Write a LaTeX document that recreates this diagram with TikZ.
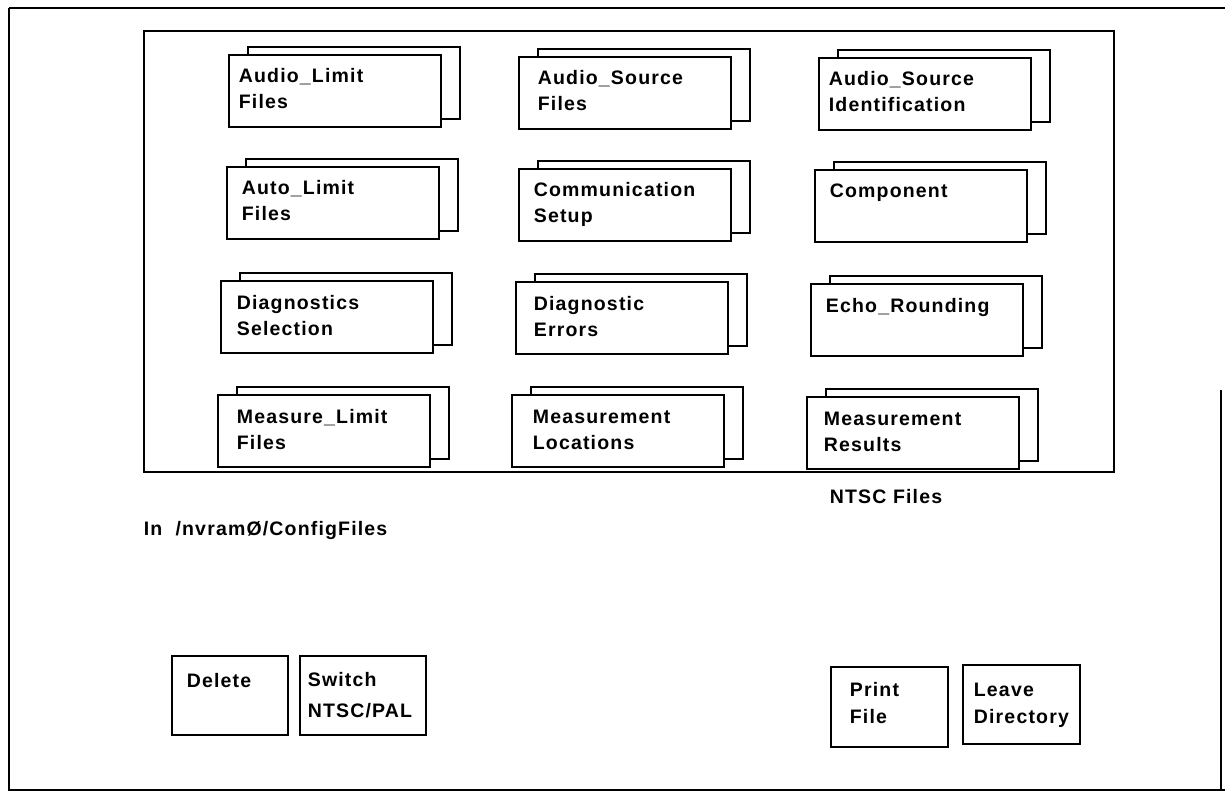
\documentclass[tikz,border=0pt]{standalone}
\usepackage{fontspec}
\setmainfont{Liberation Sans}[LetterSpace=6,UprightFont=*-Bold]
\begin{document}
\begin{tikzpicture}[x=1pt,y=-1pt,
  line width=1.8pt,
  frame/.style={draw=black},
  cardback/.style={draw=black,fill=white,rectangle,inner sep=0pt,anchor=north west,
    minimum width=212pt,minimum height=72pt},
  cardfront/.style={cardback},
  button/.style={draw=black,fill=white,rectangle,inner sep=0pt,anchor=north west},
  label/.style={anchor=base west,inner sep=0pt,font=\fontsize{19.5}{24}\selectfont}
]
\useasboundingbox (0,0) rectangle (1225,794);

% outer screen border
\draw (9,8) -- (1225,8);
\draw (9,8) -- (9,790) -- (1225,790);
\draw (1221,390) -- (1221,790);

% file panel
\node[frame,rectangle,inner sep=0pt,anchor=north west,minimum width=970pt,minimum height=441pt] (panel) at (143,30) {};

% a stacked file card: name, left, top, text left, first line, second line
\newcommand\filecard[6]{%
  \node[cardback] (#1-back) at (#2+19,#3-8) {};
  \node[cardfront] (#1) at (#2,#3) {};
  \node[label] (#1-l1) at (#4,#3+29) {#5};
  \node[label] (#1-l2) at (#4,#3+55) {#6};
}

\filecard{audiolimit}{228}{54}{238}{Audio\_Limit}{Files}
\filecard{audiosource}{518}{56}{537}{Audio\_Source}{Files}
\filecard{audioident}{818}{57}{828}{Audio\_Source}{Identification}

\filecard{autolimit}{226}{166}{241}{Auto\_Limit}{Files}
\filecard{commsetup}{518}{168}{533}{Communication}{Setup}
\filecard{component}{814}{169}{829}{Component}{}

\filecard{diagsel}{220}{280}{236}{Diagnostics}{Selection}
\filecard{diagerr}{515}{281}{533}{Diagnostic}{Errors}
\filecard{echo}{810}{283}{825}{Echo\_Rounding}{}

\filecard{measlimit}{217}{394}{236}{Measure\_Limit}{Files}
\filecard{measloc}{511}{394}{532}{Measurement}{Locations}
\filecard{measres}{806}{396}{823}{Measurement}{Results}

\node[label] (ntsc) at (829,503) {NTSC Files};
\node[label] (dir) at (143,535) {In\ \ /nvramØ/ConfigFiles};

% command buttons
\node[button,minimum width=116pt,minimum height=79pt] (delete) at (171,655) {};
\node[label] (delete-l1) at (186,687) {Delete};

\node[button,minimum width=126pt,minimum height=79pt] (switch) at (299,655) {};
\node[label] (switch-l1) at (307,686) {Switch};
\node[label] (switch-l2) at (307,717) {NTSC/PAL};

\node[button,minimum width=117pt,minimum height=80pt] (print) at (830,666) {};
\node[label] (print-l1) at (849,696) {Print};
\node[label] (print-l2) at (849,723) {File};

\node[button,minimum width=117pt,minimum height=79pt] (leave) at (962,664) {};
\node[label] (leave-l1) at (973,696) {Leave};
\node[label] (leave-l2) at (973,723) {Directory};
\end{tikzpicture}
\end{document}
